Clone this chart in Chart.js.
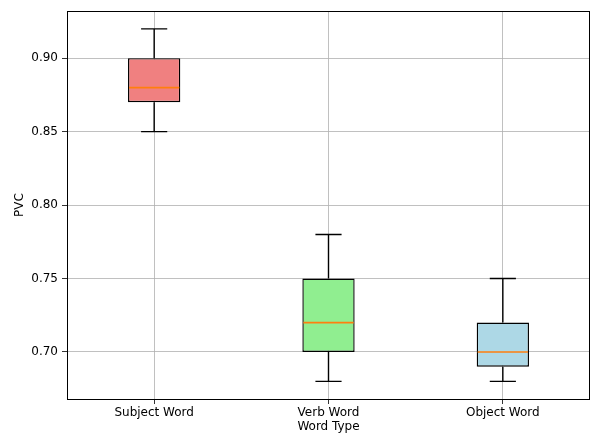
<!DOCTYPE html>
<html>
<head>
<meta charset="utf-8">
<script src="https://cdn.jsdelivr.net/npm/chart.js@4"></script>
<style>
html,body{margin:0;padding:0;background:#fff;}
#wrap{width:590px;height:434px;}
</style>
</head>
<body>
<div id="wrap"><canvas id="c" width="590" height="434"></canvas></div>
<script>
const categories = ["Subject Word", "Verb Word", "Object Word"];
const whiskerLow = [0.85, 0.68, 0.68];
const q1 = [0.87, 0.70, 0.69];
const medians = [0.88, 0.72, 0.70];
const q3 = [0.90, 0.75, 0.72];
const whiskerHigh = [0.92, 0.78, 0.75];
const boxColors = ["#F08080", "#90EE90", "#ADD8E6"];
const yTicks = [0.70, 0.75, 0.80, 0.85, 0.90];

const FONT = "'DejaVu Sans', sans-serif";

const boxPlugin = {
  id: 'boxParts',
  afterDatasetsDraw(chart) {
    const ctx = chart.ctx;
    const xs = chart.scales.x, ys = chart.scales.y;
    const meta = chart.getDatasetMeta(0);
    ctx.save();
    categories.forEach((c, i) => {
      const bar = meta.data[i];
      const x = xs.getPixelForValue(i);
      const half = bar.width / 2;
      const capHalf = half / 2;
      const yLo = ys.getPixelForValue(whiskerLow[i]);
      const yQ1 = ys.getPixelForValue(q1[i]);
      const yQ3 = ys.getPixelForValue(q3[i]);
      const yHi = ys.getPixelForValue(whiskerHigh[i]);
      const yMed = ys.getPixelForValue(medians[i]);
      ctx.strokeStyle = '#000';
      ctx.lineWidth = 1.4;
      ctx.beginPath();
      ctx.moveTo(x, yQ1); ctx.lineTo(x, yLo);
      ctx.moveTo(x - capHalf, yLo); ctx.lineTo(x + capHalf, yLo);
      ctx.moveTo(x, yQ3); ctx.lineTo(x, yHi);
      ctx.moveTo(x - capHalf, yHi); ctx.lineTo(x + capHalf, yHi);
      ctx.stroke();
      ctx.strokeStyle = '#ff7f0e';
      ctx.lineWidth = 1.6;
      ctx.beginPath();
      ctx.moveTo(x - half + 1, yMed); ctx.lineTo(x + half - 1, yMed);
      ctx.stroke();
    });
    const a = chart.chartArea;
    ctx.strokeStyle = '#000';
    ctx.lineWidth = 1;
    ctx.strokeRect(Math.round(a.left) + 0.5, Math.round(a.top) + 0.5, Math.round(a.right - a.left) - 1, Math.round(a.bottom - a.top));
    ctx.restore();
  }
};

new Chart(document.getElementById('c'), {
  type: 'bar',
  data: {
    labels: categories,
    datasets: [{
      data: categories.map((c, i) => [q1[i], q3[i]]),
      backgroundColor: boxColors,
      borderColor: '#000',
      borderWidth: 1.4,
      borderSkipped: false,
      categoryPercentage: 1.0,
      barPercentage: 0.3
    }]
  },
  options: {
    responsive: false,
    animation: false,
    devicePixelRatio: 1,
    layout: { padding: { left: 0, right: 0, top: 10, bottom: 0 } },
    plugins: { legend: { display: false }, tooltip: { enabled: false } },
    scales: {
      x: {
        offset: true,
        grid: { offset: false, color: '#b0b0b0', lineWidth: 0.8, tickColor: '#000', tickLength: 5, drawTicks: true },
        border: { display: false },
        ticks: { color: '#000', font: { family: FONT, size: 12 }, padding: 2, maxRotation: 0 },
        title: { display: true, text: 'Word Type', color: '#000', font: { family: FONT, size: 12 }, padding: { top: 0, bottom: 0 } },
        afterFit(s) { s.height = 35; }
      },
      y: {
        min: 0.668,
        max: 0.932,
        afterBuildTicks(s) { s.ticks = yTicks.map(v => ({ value: v })); },
        grid: { color: '#b0b0b0', lineWidth: 0.8, tickColor: '#000', tickLength: 5, drawTicks: true },
        border: { display: false },
        ticks: { color: '#000', font: { family: FONT, size: 12 }, padding: 4, callback: v => Number(v).toFixed(2) },
        title: { display: true, text: 'PVC', color: '#000', font: { family: FONT, size: 12 }, padding: { top: 13, bottom: 0 } },
        afterFit(s) { s.width = 67; }
      }
    }
  },
  plugins: [boxPlugin]
});
</script>
</body>
</html>
